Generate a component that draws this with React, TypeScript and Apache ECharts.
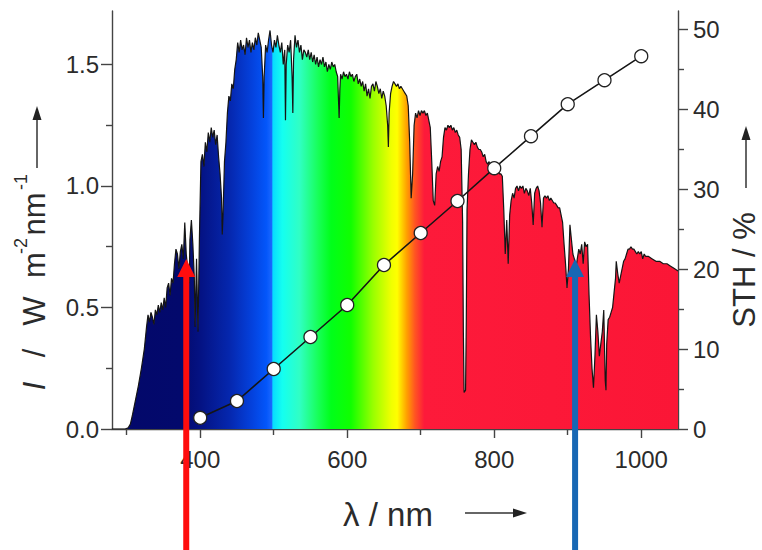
import React, { useEffect, useRef } from "react";
import * as echarts from "echarts";

// AM1.5G-like solar spectrum (nm, W m^-2 nm^-1)
const wavelengths = [
  280, 290, 298, 302, 305, 308, 312, 316, 320, 324, 327, 329, 331, 333, 335, 337, 339, 341, 343, 345,
  347, 349, 351, 353, 355, 357, 359, 361, 363, 365, 367, 369, 371, 373, 375, 377, 379, 381, 383, 385,
  386, 388, 390, 392, 393, 395, 397, 399, 401, 403, 405, 407, 409, 411, 413, 415, 417, 419, 421, 423,
  425, 427, 429, 430, 431, 433, 435, 437, 439, 441, 443, 445, 447, 449, 451, 453, 455, 457, 459, 461,
  463, 465, 467, 469, 471, 473, 475, 477, 479, 481, 483, 485, 486, 487, 489, 491, 493, 495, 497, 499,
  501, 503, 505, 507, 509, 511, 513, 515, 516, 517, 519, 521, 523, 525, 526, 527, 529, 531, 533, 535,
  537, 539, 541, 543, 545, 547, 549, 551, 553, 555, 557, 559, 561, 563, 565, 567, 569, 571, 573, 575,
  577, 579, 581, 583, 585, 587, 589, 590, 591, 593, 595, 597, 599, 601, 603, 605, 607, 609, 611, 613,
  615, 617, 619, 621, 623, 625, 627, 629, 631, 633, 635, 637, 639, 641, 643, 645, 647, 649, 651, 653,
  655, 656, 657, 659, 661, 663, 665, 667, 669, 671, 673, 675, 677, 679, 681, 683, 685, 687, 689, 691,
  693, 695, 697, 699, 701, 703, 705, 707, 709, 711, 713, 715, 717, 719, 721, 723, 725, 727, 729, 731,
  733, 735, 737, 739, 741, 743, 745, 747, 749, 751, 753, 755, 757, 758, 759, 761, 762, 763, 765, 767,
  769, 771, 773, 775, 777, 779, 781, 783, 785, 787, 789, 791, 793, 795, 797, 799, 801, 803, 805, 807,
  809, 811, 813, 815, 817, 819, 821, 823, 825, 827, 829, 831, 833, 835, 837, 839, 841, 843, 845, 847,
  849, 851, 853, 855, 857, 859, 861, 863, 865, 867, 869, 871, 873, 875, 877, 879, 881, 883, 885, 887,
  889, 891, 893, 895, 897, 899, 901, 903, 905, 907, 909, 911, 913, 915, 917, 919, 921, 923, 925, 927,
  929, 931, 933, 935, 937, 939, 941, 943, 945, 947, 949, 951, 952, 953, 955, 957, 959, 961, 963, 965,
  966, 968, 970, 972, 974, 976, 978, 980, 982, 984, 986, 988, 990, 992, 994, 996, 998, 1000, 1002, 1004,
  1006, 1010, 1015, 1020, 1025, 1030, 1035, 1040, 1045, 1050,
];
const irradiance = [
  0, 0, 0, 0.005, 0.02, 0.06, 0.12, 0.18, 0.25, 0.33, 0.42, 0.47, 0.44, 0.48, 0.46, 0.43, 0.49, 0.47, 0.51, 0.48,
  0.52, 0.49, 0.54, 0.5, 0.58, 0.6, 0.55, 0.62, 0.6, 0.68, 0.74, 0.72, 0.66, 0.73, 0.76, 0.7, 0.85, 0.72, 0.66, 0.6,
  0.78, 0.86, 0.76, 0.62, 0.42, 0.7, 0.4, 0.8, 1.1, 1.13, 1.08, 1.18, 1.14, 1.22, 1.18, 1.24, 1.2, 1.23, 1.17, 1.21,
  1.12, 1.05, 0.95, 0.8, 0.88, 1.1, 1.18, 1.3, 1.37, 1.35, 1.42, 1.4, 1.48, 1.52, 1.59, 1.55, 1.6, 1.56, 1.58, 1.54,
  1.61, 1.57, 1.6, 1.55, 1.59, 1.56, 1.61, 1.58, 1.63, 1.6, 1.57, 1.45, 1.28, 1.45, 1.58, 1.55, 1.6, 1.64, 1.58, 1.55,
  1.6, 1.57, 1.62, 1.58, 1.55, 1.59, 1.5, 1.56, 1.27, 1.5, 1.58, 1.55, 1.6, 1.45, 1.3, 1.52, 1.62, 1.57, 1.6, 1.55,
  1.58, 1.52, 1.56, 1.55, 1.53, 1.56, 1.52, 1.55, 1.51, 1.54, 1.5, 1.53, 1.49, 1.52, 1.5, 1.53, 1.49, 1.51, 1.47, 1.5,
  1.48, 1.51, 1.49, 1.5, 1.47, 1.45, 1.28, 1.4, 1.46, 1.44, 1.47, 1.45, 1.46, 1.44, 1.47, 1.45, 1.46, 1.43, 1.45, 1.46,
  1.42, 1.44, 1.41, 1.43, 1.39, 1.42, 1.37, 1.4, 1.36, 1.41, 1.42, 1.39, 1.43, 1.41, 1.38, 1.4, 1.36, 1.39, 1.37, 1.33,
  1.25, 1.16, 1.3, 1.38, 1.41, 1.43, 1.42, 1.41, 1.42, 1.4, 1.41, 1.4, 1.39, 1.38, 1.37, 1.33, 1.18, 0.95, 1.05, 1.25,
  1.3, 1.28, 1.31, 1.29, 1.31, 1.3, 1.31, 1.29, 1.3, 1.27, 1.24, 1.1, 0.94, 0.92, 1.05, 1.08, 1.06, 1.1, 1.12, 1.2,
  1.24, 1.23, 1.25, 1.24, 1.25, 1.23, 1.24, 1.22, 1.23, 1.21, 1.2, 1.15, 0.85, 0.4, 0.15, 0.16, 0.45, 0.9, 1.05, 1.15,
  1.19, 1.18, 1.17, 1.18, 1.16, 1.15, 1.15, 1.14, 1.12, 1.13, 1.1, 1.09, 1.1, 1.07, 1.08, 1.06, 1.07, 1.06, 1.07, 1.05,
  1.05, 1.04, 0.9, 0.72, 0.86, 0.68, 0.88, 0.94, 0.97, 0.95, 0.99, 1.0, 0.98, 1.0, 0.99, 1.0, 0.97, 0.99, 0.98, 0.96,
  0.99, 0.93, 0.84, 0.97, 0.99, 1.0, 0.98, 0.93, 0.83, 0.95, 0.96, 0.95, 0.96, 0.94, 0.95, 0.94, 0.93, 0.93, 0.92, 0.91,
  0.91, 0.88, 0.85, 0.76, 0.68, 0.58, 0.66, 0.84, 0.78, 0.72, 0.7, 0.66, 0.7, 0.74, 0.72, 0.76, 0.68, 0.77, 0.75, 0.76,
  0.55, 0.38, 0.25, 0.17, 0.3, 0.47, 0.4, 0.3, 0.35, 0.4, 0.49, 0.2, 0.16, 0.35, 0.45, 0.46, 0.48, 0.5, 0.56, 0.62,
  0.69, 0.64, 0.6, 0.63, 0.66, 0.69, 0.7, 0.72, 0.74, 0.74, 0.75, 0.74, 0.74, 0.73, 0.72, 0.73, 0.72, 0.73, 0.7, 0.72,
  0.71, 0.71, 0.7, 0.69, 0.69, 0.68, 0.68, 0.67, 0.66, 0.65,
];

// STH (%) vs wavelength cut-off
const sthWavelengths = [400, 450, 500, 550, 600, 650, 700, 750, 800, 850, 900, 950, 1000];
const sthValues = [1.4, 3.5, 7.5, 11.5, 15.5, 20.5, 24.5, 28.5, 32.6, 36.6, 40.6, 43.6, 46.6];

// tick labels
const xTickLabels = [400, 600, 800, 1000];
const xMinorTicks = [300, 500, 700, 900];
const leftTickLabels = [0, 0.5, 1.0, 1.5];
const leftMinorTicks = [0.25, 0.75, 1.25];
const rightTickLabels = [0, 10, 20, 30, 40, 50];
const rightMinorTicks = [5, 15, 25, 35, 45];

// annotation arrows (wavelength, irradiance at tip)
const arrowLambdas = [381, 910];
const arrowTips = [0.7, 0.7];
const arrowColors = ["#ff0d0d", "#1767b4"];

const X_MIN = 280;
const X_MAX = 1050;
const FONT = "'Liberation Sans', Arial, Helvetica, sans-serif";
const AXIS_COLOR = "#444";
const TEXT_COLOR = "#2b2b2b";

const spectrumStops: [number, string][] = [
  [280, "#03086a"],
  [372, "#03096c"],
  [400, "#041283"],
  [440, "#0527ae"],
  [470, "#0441dc"],
  [490, "#0356fa"],
  [497, "#1866ff"],
  [499, "#08dcff"],
  [512, "#14fff0"],
  [535, "#30ffc4"],
  [560, "#18ff5a"],
  [578, "#00ff1a"],
  [605, "#10ff00"],
  [635, "#98ff00"],
  [660, "#f0ff00"],
  [668, "#ffff00"],
  [681, "#ffa000"],
  [692, "#ff5522"],
  [705, "#fd1a3a"],
  [1050, "#fb1636"],
];

export default function App() {
  const ref = useRef<HTMLDivElement>(null);

  useEffect(() => {
    if (!ref.current) return;
    const chart = echarts.init(ref.current, undefined, { renderer: "svg" });

    const gradient = new echarts.graphic.LinearGradient(
      0,
      0,
      1,
      0,
      spectrumStops.map(([l, c]) => ({ offset: (l - X_MIN) / (X_MAX - X_MIN), color: c }))
    );

    const tickLine = { color: AXIS_COLOR, width: 1.4 };
    const labelStyle = { fontSize: 24, color: TEXT_COLOR, fontFamily: FONT };

    chart.setOption({
      animation: false,
      grid: { left: 112, right: 84, top: 11, bottom: 121, containLabel: false },
      xAxis: [
        {
          type: "value",
          min: X_MIN,
          max: X_MAX,
          position: "bottom",
          axisLine: { show: true, lineStyle: tickLine },
          axisTick: { show: true, customValues: xTickLabels, length: 9, lineStyle: tickLine },
          axisLabel: {
            customValues: xTickLabels,
            margin: 18,
            formatter: (v: number) => String(v),
            ...labelStyle,
          },
          splitLine: { show: false },
        },
        {
          type: "value",
          min: X_MIN,
          max: X_MAX,
          position: "bottom",
          axisLine: { show: false },
          axisTick: { show: true, customValues: xMinorTicks, length: 6, lineStyle: tickLine },
          axisLabel: { show: false },
          splitLine: { show: false },
        },
      ],
      yAxis: [
        {
          type: "value",
          min: 0,
          max: 1.72,
          position: "left",
          axisLine: { show: true, lineStyle: tickLine },
          axisTick: { show: true, customValues: leftTickLabels, length: 11, lineStyle: tickLine },
          axisLabel: {
            customValues: leftTickLabels,
            margin: 13,
            formatter: (v: number) => v.toFixed(1),
            ...labelStyle,
          },
          splitLine: { show: false },
        },
        {
          type: "value",
          min: 0,
          max: 1.72,
          position: "left",
          axisLine: { show: false },
          axisTick: { show: true, customValues: leftMinorTicks, length: 6, lineStyle: tickLine },
          axisLabel: { show: false },
          splitLine: { show: false },
        },
        {
          type: "value",
          min: 0,
          max: 52.25,
          position: "right",
          axisLine: { show: true, lineStyle: tickLine },
          axisTick: { show: true, customValues: rightTickLabels, length: 10, lineStyle: tickLine },
          axisLabel: { customValues: rightTickLabels, margin: 15, ...labelStyle },
          splitLine: { show: false },
        },
        {
          type: "value",
          min: 0,
          max: 52.25,
          position: "right",
          axisLine: { show: false },
          axisTick: { show: true, customValues: rightMinorTicks, length: 6, lineStyle: tickLine },
          axisLabel: { show: false },
          splitLine: { show: false },
        },
      ],
      series: [
        {
          type: "line",
          xAxisIndex: 0,
          yAxisIndex: 0,
          data: wavelengths.map((w, i) => [w, irradiance[i]]),
          symbol: "none",
          showSymbol: false,
          lineStyle: { color: "#151515", width: 1.2 },
          areaStyle: { color: gradient, opacity: 1 },
          z: 2,
        },
        {
          type: "line",
          xAxisIndex: 0,
          yAxisIndex: 2,
          data: sthWavelengths.map((w, i) => [w, sthValues[i]]),
          symbol: "circle",
          symbolSize: 13,
          itemStyle: { color: "#ffffff", borderColor: "#222", borderWidth: 1.3 },
          lineStyle: { color: "#151515", width: 1.6 },
          z: 5,
        },
      ],
    });

    const nameStyle = { fontSize: 31, fontFamily: FONT, fill: TEXT_COLOR };
    const supStyle = { fontSize: 18, fontFamily: FONT, fill: TEXT_COLOR };
    const arrowGray = "#333";
    const rot = (text: string, x: number, y: number, style: any) => ({
      type: "text",
      x,
      y,
      rotation: Math.PI / 2,
      style: { text, align: "center", verticalAlign: "middle", ...style },
    });

    const graphics: any[] = [
      // left axis name, piece by piece (wide spacing as in the original)
      rot("I", 34, 386, { ...nameStyle, fontStyle: "italic" }),
      rot("/", 34, 353, nameStyle),
      rot("W", 34, 311, nameStyle),
      rot("m", 34, 265, nameStyle),
      rot("-2", 21, 246, supStyle),
      rot("nm", 34, 214, nameStyle),
      rot("-1", 21, 182, supStyle),
      { type: "line", shape: { x1: 37, y1: 168, x2: 37, y2: 116 }, style: { stroke: arrowGray, lineWidth: 1.5 } },
      { type: "polygon", shape: { points: [[32.5, 120], [41.5, 120], [37, 106]] }, style: { fill: "#222" } },
      // right axis name
      rot("STH / %", 744, 270, { ...nameStyle, fontSize: 31 }),
      { type: "line", shape: { x1: 746, y1: 188, x2: 746, y2: 136 }, style: { stroke: arrowGray, lineWidth: 1.5 } },
      { type: "polygon", shape: { points: [[741.5, 140], [750.5, 140], [746, 126]] }, style: { fill: "#222" } },
      // bottom axis name
      {
        type: "text",
        x: 388,
        y: 514,
        style: { text: "λ / nm", align: "center", verticalAlign: "middle", ...nameStyle, fontSize: 33 },
      },
      { type: "line", shape: { x1: 465, y1: 513, x2: 516, y2: 513 }, style: { stroke: arrowGray, lineWidth: 1.5 } },
      { type: "polygon", shape: { points: [[513, 508.5], [513, 517.5], [527, 513]] }, style: { fill: "#222" } },
    ];

    arrowLambdas.forEach((l, i) => {
      const p = chart.convertToPixel({ seriesIndex: 0 }, [l, arrowTips[i]]) as number[];
      const x = p[0];
      const y = p[1];
      graphics.push({
        type: "rect",
        shape: { x: x - 3, y: y + 14, width: 6, height: 550 - y },
        style: { fill: arrowColors[i] },
        z: 100,
      });
      graphics.push({
        type: "polygon",
        shape: { points: [[x - 9, y + 18], [x + 9, y + 18], [x, y]] },
        style: { fill: arrowColors[i] },
        z: 100,
      });
    });

    chart.setOption({ graphic: graphics });

    return () => chart.dispose();
  }, []);

  return (
    <div
      ref={ref}
      style={{ position: "fixed", left: 0, top: 0, width: 762, height: 550, background: "#fff" }}
    />
  );
}
